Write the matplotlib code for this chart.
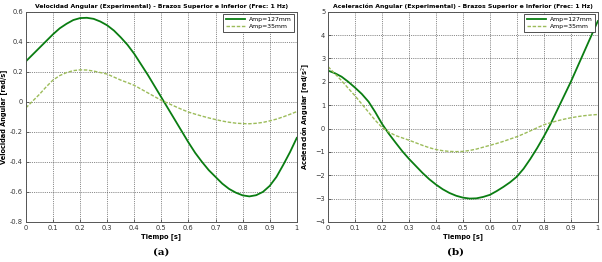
import numpy as np
import matplotlib
matplotlib.use('Agg')
import matplotlib.pyplot as plt

# tiempo [s], lectura cada 0.025 s
t = np.linspace(0.0, 1.0, 41)

# velocidad angular [rad/s]
vel_127 = [0.27, 0.315, 0.36, 0.405, 0.45, 0.49, 0.52, 0.545, 0.558, 0.56,
           0.553, 0.535, 0.51, 0.475, 0.43, 0.38, 0.32, 0.25, 0.18, 0.105,
           0.03, -0.045, -0.12, -0.195, -0.27, -0.34, -0.40, -0.455, -0.50, -0.545,
           -0.58, -0.605, -0.623, -0.63, -0.622, -0.60, -0.56, -0.50, -0.42, -0.335,
           -0.24]
vel_35 = [-0.04, 0.005, 0.05, 0.10, 0.145, 0.175, 0.195, 0.208, 0.213, 0.212,
          0.205, 0.195, 0.185, 0.165, 0.145, 0.128, 0.11, 0.085, 0.06, 0.035,
          0.01, -0.01, -0.03, -0.05, -0.068, -0.082, -0.095, -0.107, -0.118, -0.128,
          -0.136, -0.142, -0.145, -0.146, -0.143, -0.137, -0.127, -0.115, -0.10, -0.083,
          -0.065]

# aceleracion angular [rad/s^2]
acc_127 = [2.48, 2.37, 2.22, 2.0, 1.75, 1.48, 1.15, 0.7, 0.2, -0.22,
           -0.6, -0.97, -1.3, -1.6, -1.9, -2.17, -2.4, -2.6, -2.76, -2.88,
           -2.96, -3.0, -2.99, -2.93, -2.84, -2.68, -2.5, -2.3, -2.06, -1.72,
           -1.3, -0.84, -0.34, 0.2, 0.8, 1.4, 2.0, 2.65, 3.3, 3.95,
           4.6]
acc_35 = [2.65, 2.35, 2.05, 1.72, 1.4, 1.05, 0.7, 0.35, 0.05, -0.15,
          -0.3, -0.4, -0.5, -0.61, -0.72, -0.82, -0.9, -0.95, -0.98, -0.99,
          -0.98, -0.94, -0.88, -0.8, -0.72, -0.64, -0.55, -0.45, -0.35, -0.23,
          -0.1, 0.03, 0.16, 0.25, 0.33, 0.4, 0.46, 0.51, 0.55, 0.58,
          0.6]

labels = ['Amp=127mm', 'Amp=35mm']
xtick_labels = ['0', '0.1', '0.2', '0.3', '0.4', '0.5', '0.6', '0.7', '0.8', '0.9', '1']
dark = '#0a7d12'
light = '#9cbc5a'

plt.rcParams['font.family'] = 'DejaVu Sans'

fig = plt.figure(figsize=(6.02, 2.62), dpi=100)
ax_v = fig.add_axes([0.043, 0.153, 0.450, 0.802])
ax_a = fig.add_axes([0.545, 0.153, 0.448, 0.802])


def style(ax, title, ylabel, ylim, yticks):
    ax.set_xlim(0, 1)
    ax.set_ylim(*ylim)
    ax.set_xticks(np.arange(0, 1.01, 0.1))
    ax.set_xticklabels(xtick_labels)
    ax.set_yticks(yticks)
    ax.grid(True, color='#444444', linestyle=(0, (1.2, 1.5)), linewidth=0.5)
    ax.tick_params(labelsize=4.8, length=2, width=0.5, direction='in', pad=2,
                   colors='#333333')
    for s in ax.spines.values():
        s.set_color('#555555')
        s.set_linewidth(0.7)
    ax.set_title(title, fontsize=4.4, fontweight='bold', pad=3)
    ax.set_xlabel('Tiempo [s]', fontsize=4.8, fontweight='bold', labelpad=2)
    ax.set_ylabel(ylabel, fontsize=4.8, fontweight='bold', labelpad=2)
    leg = ax.legend(loc='upper right', fontsize=4.4, fancybox=False,
                    framealpha=1, edgecolor='#333333', borderpad=0.4,
                    handlelength=3.2, labelspacing=0.3, handletextpad=0.6,
                    borderaxespad=0.4)
    leg.get_frame().set_linewidth(0.6)


ax_v.plot(t, vel_127, color=dark, lw=1.3, label=labels[0])
ax_v.plot(t, vel_35, color=light, lw=1.0, ls=(0, (2.5, 1.2)), label=labels[1])
style(ax_v, 'Velocidad Angular (Experimental) - Brazos Superior e Inferior (Frec: 1 Hz)',
      'Velocidad Angular [rad/s]', (-0.8, 0.6), np.arange(-0.8, 0.61, 0.2))
ax_v.set_yticklabels(['-0.8', '-0.6', '-0.4', '-0.2', '0', '0.2', '0.4', '0.6'])

ax_a.plot(t, acc_127, color=dark, lw=1.3, label=labels[0])
ax_a.plot(t, acc_35, color=light, lw=1.0, ls=(0, (2.5, 1.2)), label=labels[1])
style(ax_a, 'Aceleración Angular (Experimental) - Brazos Superior e Inferior (Frec: 1 Hz)',
      'Aceleración Angular [rad/s$^2$]', (-4, 5), np.arange(-4, 6, 1))

fig.text(0.268, 0.028, '(a)', fontsize=7.5, fontweight='bold', ha='center',
         family='DejaVu Serif')
fig.text(0.757, 0.028, '(b)', fontsize=7.5, fontweight='bold', ha='center',
         family='DejaVu Serif')

fig.savefig('out.png', dpi=100)
